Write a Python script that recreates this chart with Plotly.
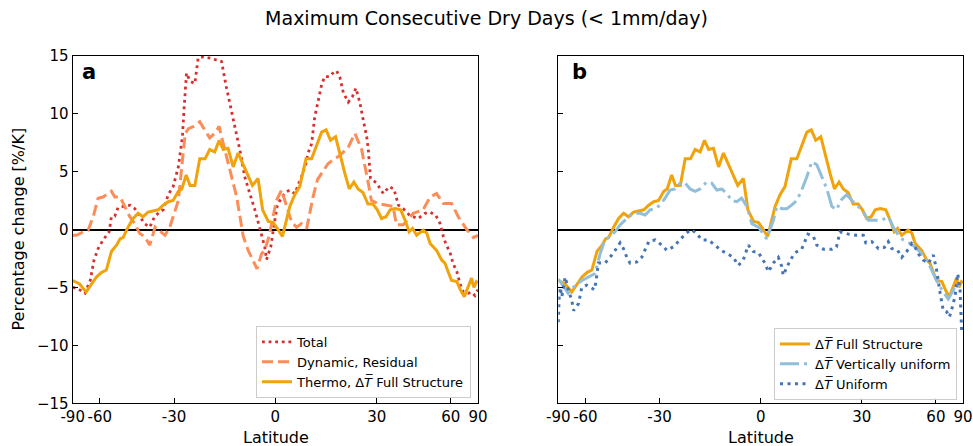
import numpy as np
import plotly.graph_objects as go

# ---------------- data (latitude, % change per K) ----------------
TICK_LATS = [-90, -60, -30, 0, 30, 60, 90]
TICK_TEXT = ["-90", "-60", "-30", "0", "30", "60", "90"]
Y_TICKS = [-15, -10, -5, 0, 5, 10, 15]

total = [(-90, -5.0), (-77, -5.1), (-70, -5.5), (-66, -4.4), (-63.5, -2.65), (-61, -1.65),
         (-58.2, -0.9), (-55.1, -0.2), (-54, 1.1), (-52.4, 1.15), (-50.9, 1.9), (-48.7, 2.0),
         (-45.9, 2.1), (-43.9, 1.8), (-42, 1.1), (-40.2, 0.5), (-38.3, 0.2), (-36.6, 1.1),
         (-34.9, 1.5), (-33.6, 1.7), (-31.9, 3.0), (-30.3, 3.7), (-28.6, 5.4), (-27.3, 8.0),
         (-26.8, 10.3), (-26.0, 13.5), (-24.9, 12.8), (-23.4, 12.6), (-22.4, 14.8), (-20.9, 14.9),
         (-18.9, 14.8), (-17.4, 14.7), (-15.4, 14.5), (-14.0, 12.3), (-12.5, 10.3), (-11.2, 8.6),
         (-9.9, 6.6), (-8.7, 4.55), (-7.2, 3.1), (-5.8, 1.7), (-4.4, 0.1), (-3.0, -1.5),
         (-2.5, -2.6), (-1.3, -1.5), (-0.3, 0.5), (0.5, 2.0), (1.3, 2.5), (2.8, 3.2), (4.1, 3.4),
         (5.5, 3.1), (7.4, 4.55), (8.7, 5.7), (9.3, 6.6), (10.3, 7.4), (11.2, 9.7), (12.2, 11.2),
         (13.2, 12.5), (14.1, 13.2), (15.6, 13.2), (16.8, 13.6), (17.6, 13.7), (18.6, 13.1),
         (19.6, 11.8), (21.1, 11.0), (22.4, 11.5), (23.4, 12.2), (24.7, 10.9), (25.7, 9.45),
         (26.8, 8.0), (27.3, 6.9), (28.0, 4.4), (30.0, 4.0), (32.2, 3.1), (34.2, 3.7), (35.8, 3.5),
         (37.4, 2.1), (39.1, 1.8), (41.6, 1.2), (44.8, 0.95), (47.6, 1.4), (49.8, 1.5), (52.4, 1.2),
         (54.4, 0.5), (56, -0.6), (57.5, -1.35), (59.4, -1.9), (61.2, -2.9), (63.6, -3.65),
         (65.7, -4.7), (68.1, -5.4), (72.2, -5.5), (75.4, -5.4), (80, -5.7), (83, -5.4), (90, -5.2)]

dynamic = [(-90, -0.5), (-79, -0.5), (-71.5, -0.2), (-67.5, -0.05), (-64, 1.1), (-61, 2.7),
           (-58.2, 2.8), (-55.6, 3.1), (-54, 3.3), (-52.4, 2.8), (-50, 2.8), (-48, 2.0),
           (-45.9, 1.1), (-43.9, 0.5), (-42, -0.35), (-40.2, -0.6), (-38.3, -1.35), (-36.4, 0.2),
           (-33, -0.5), (-31.4, 0.2), (-29.9, 1.4), (-28.6, 2.5), (-27.5, 5.4), (-26.4, 8.3),
           (-25.4, 8.7), (-23.8, 8.9), (-21.9, 9.3), (-20.3, 8.6), (-18.9, 7.9), (-17.4, 8.3),
           (-16.1, 8.9), (-15.4, 8.0), (-14.4, 6.9), (-13.2, 5.4), (-12.0, 4.0), (-11.0, 2.8),
           (-10.1, 1.1), (-9.1, -0.6), (-7.7, -1.8), (-6.3, -2.65), (-5.2, -3.4), (-3.9, -2.1),
           (-3.0, -1.8), (-1.8, -0.6), (-0.6, 1.1), (0.3, 2.5), (1.75, 3.4), (3.2, 2.0), (4.6, 0.65),
           (6.0, 0.2), (7.4, 0.5), (8.9, 0.1), (10.7, 2.8), (12.0, 4.3), (15.1, 5.7), (18.6, 6.4),
           (21.1, 7.1), (23.1, 8.3), (25.2, 6.9), (27.3, 4.0), (28.3, 2.5), (31.0, 2.2), (35.5, 2.0),
           (36.7, 0.4), (39.1, 0.4), (42.9, 1.4), (46.8, 1.7), (49.8, 2.8), (52.7, 3.1), (56, 2.25),
           (60.4, 2.25), (64.5, 1.1), (70.8, 0.0), (77.9, -0.7), (83, -0.6), (90, -0.5)]

thermo = [(-90, -4.4), (-82, -4.5), (-75, -4.7), (-69, -5.4), (-65, -4.7), (-62, -4.1), (-59, -3.7),
          (-56.5, -3.5), (-54, -1.9), (-51.6, -1.35), (-50, -0.8), (-48.7, -0.7), (-46.6, 0.2),
          (-44.6, 0.95), (-42.6, 1.4), (-40.8, 1.1), (-38.9, 1.5), (-37.1, 1.6), (-35.3, 1.7),
          (-33.6, 2.1), (-31.9, 2.4), (-30.3, 2.5), (-28.6, 3.3), (-27.5, 3.5), (-26.1, 4.7),
          (-24.9, 3.8), (-23.4, 3.8), (-21.9, 6.1), (-20.3, 6.1), (-18.9, 6.9), (-17.4, 6.7),
          (-16.1, 7.7), (-14.9, 6.9), (-13.5, 7.0), (-12.0, 5.4), (-10.6, 6.6), (-9.1, 5.6),
          (-7.6, 4.6), (-6.5, 3.8), (-4.9, 4.4), (-3.6, 1.7), (-2.0, 0.7), (-0.6, 0.6), (0.3, 0.2),
          (2.0, -0.6), (4.1, 2.0), (5.5, 3.0), (6.9, 3.7), (8.7, 6.1), (10.3, 6.1), (11.8, 7.3),
          (13.2, 8.4), (14.5, 8.6), (15.8, 7.7), (17.3, 8.0), (18.6, 6.4), (20.1, 4.8), (21.4, 3.5),
          (22.8, 4.1), (24.1, 3.5), (25.6, 3.2), (27.2, 2.2), (28.8, 2.2), (30.2, 1.7), (31.6, 0.95),
          (33.1, 1.1), (34.5, 1.7), (36.2, 1.8), (38.2, 1.7), (39.8, 0.8), (41.3, -0.2), (42.6, 0.1),
          (44.2, -0.5), (46.8, -0.05), (48.3, -0.3), (49.8, -1.2), (52.7, -1.8), (55.2, -2.65),
          (56.8, -2.9), (58.5, -3.65), (60.4, -4.4), (63.6, -4.5), (66.1, -5.25), (68.8, -5.8),
          (72.1, -5.0), (75.5, -4.2), (78.5, -5.0), (83, -4.5), (90, -4.6)]

vert_uniform = [(-90, -4.3), (-82, -4.5), (-72, -5.5), (-67, -4.9), (-62, -4.4), (-58.3, -4.1),
                (-54.9, -3.8), (-52.5, -2.1), (-50.3, -0.9), (-48.1, -0.6), (-46, -0.2), (-44, 0.4),
                (-41.4, 0.95), (-38.9, 1.4), (-36.6, 1.4), (-34.8, 1.25), (-33.1, 1.7), (-31.4, 1.8),
                (-29.8, 2.1), (-28.2, 2.7), (-26.6, 3.4), (-25, 3.5), (-23.5, 4.0), (-21.9, 4.0),
                (-20.4, 3.5), (-18.9, 3.3), (-17.4, 3.5), (-15.5, 4.1), (-14, 4.0), (-12.5, 3.4),
                (-11.1, 3.5), (-9.6, 3.1), (-8.2, 2.5), (-6.8, 2.4), (-5.4, 2.7), (-3.9, 2.0),
                (-2.5, 0.5), (-0.6, 0.2), (1.7, -0.8), (3.6, 0.8), (4.6, 2.0), (6.0, 1.8), (7.4, 1.8),
                (8.8, 2.1), (10.3, 2.5), (11.7, 3.4), (13.2, 4.55), (14.6, 5.85), (16.1, 5.6),
                (17.6, 4.55), (19.1, 3.5), (20.6, 2.0), (22.0, 1.7), (23.6, 2.6), (25.2, 3.0),
                (26.8, 2.5), (28.3, 2.1), (30.0, 1.7), (32.2, 0.8), (34.4, 0.8), (36.7, 0.8),
                (39.1, 1.1), (41.0, 0.2), (42.9, -0.5), (44.8, -0.9), (47.6, -1.2), (49.7, -1.5),
                (52.8, -2.1), (56.0, -2.9), (58.6, -3.8), (61.4, -4.7), (64.5, -5.4), (68.0, -6.0),
                (72.2, -5.25), (75.7, -4.7), (80.6, -5.0), (90, -5.0)]

uniform = [(-90, -8.0), (-87, -7.0), (-85, -6.0), (-82, -5.0), (-79.3, -5.8), (-75, -4.1),
           (-71.9, -5.2), (-69, -6.1), (-67.6, -7.0), (-64.2, -6.4), (-62.1, -5.0), (-59.3, -4.8),
           (-57.4, -5.0), (-55.2, -5.2), (-54.5, -4.5), (-53.3, -2.9), (-50.3, -2.9), (-48.1, -2.4),
           (-46, -1.8), (-44, -1.15), (-42.7, -1.65), (-41.4, -2.4), (-40.2, -2.9), (-37.7, -2.8),
           (-36, -2.4), (-34.8, -1.65), (-33.5, -1.0), (-31.4, -0.9), (-29.2, -1.35), (-27.6, -1.8),
           (-25.6, -1.5), (-23.5, -0.9), (-21.9, -0.4), (-20.1, 0.0), (-18.4, -0.35), (-16.9, -0.9),
           (-15, -0.9), (-13, -1.35), (-11.3, -1.8), (-9.4, -2.1), (-7.8, -2.4), (-6.3, -3.1),
           (-4.9, -2.6), (-3.5, -1.35), (-2.1, -1.9), (-0.6, -2.0), (1.2, -2.9), (2.2, -3.65),
           (3.6, -2.9), (5.0, -2.4), (6.0, -3.2), (6.4, -3.95), (7.6, -3.2), (8.4, -2.65), (9.8, -2.0),
           (11.7, -1.7), (13.5, -0.4), (15.1, -0.6), (16.1, -1.35), (18.1, -1.7), (20.6, -1.7),
           (22.0, -1.5), (23.1, -0.2), (25.7, -0.4), (28.3, -0.5), (30.5, -0.5), (31.3, -1.15),
           (33.3, -1.05), (35.6, -1.65), (37.7, -1.55), (39.1, -1.05), (40.4, -1.65), (42.6, -1.8),
           (44.2, -2.4), (46.2, -1.9), (48.3, -1.2), (49.7, -1.5), (51.2, -2.1), (53.5, -2.65),
           (56.0, -2.9), (58.6, -2.2), (60.4, -3.5), (62.5, -5.5), (64.5, -7.0), (66.8, -7.1),
           (68.9, -7.55), (71.3, -6.7), (74.0, -5.7), (76.9, -3.8), (80.2, -5.25), (83.3, -8.7),
           (90, -8.4)]

# ---------------- styling ----------------
C_TOTAL = "#d62f2f"
C_DYN = "#fc8d59"
C_THERMO = "#f0a30a"
C_VU = "#91bfdb"
C_U = "#4575b4"
FONT = "DejaVu Sans"
DT = "Δ<i>T\u0305</i>"


def sx(lat):
    return np.sin(np.radians(np.asarray(lat, dtype=float)))


def xy(pairs):
    lat = [p[0] for p in pairs]
    val = [p[1] for p in pairs]
    return sx(lat), val


fig = go.Figure()

x, y = xy(total)
fig.add_trace(go.Scatter(x=x, y=y, mode="lines", name="Total", xaxis="x", yaxis="y", legend="legend",
                         line=dict(color=C_TOTAL, width=2.8, dash="2.8px,3.8px")))
x, y = xy(dynamic)
fig.add_trace(go.Scatter(x=x, y=y, mode="lines", name="Dynamic, Residual", xaxis="x", yaxis="y",
                         legend="legend", line=dict(color=C_DYN, width=3, dash="11px,5px")))
x, y = xy(thermo)
fig.add_trace(go.Scatter(x=x, y=y, mode="lines", name="Thermo, " + DT + " Full Structure", xaxis="x",
                         yaxis="y", legend="legend", line=dict(color=C_THERMO, width=3)))

x, y = xy(thermo)
fig.add_trace(go.Scatter(x=x, y=y, mode="lines", name=DT + " Full Structure", xaxis="x2", yaxis="y2",
                         legend="legend2", line=dict(color=C_THERMO, width=3)))
x, y = xy(vert_uniform)
fig.add_trace(go.Scatter(x=x, y=y, mode="lines", name=DT + " Vertically uniform", xaxis="x2",
                         yaxis="y2", legend="legend2",
                         line=dict(color=C_VU, width=3, dash="19px,5px,3px,5px")))
x, y = xy(uniform)
fig.add_trace(go.Scatter(x=x, y=y, mode="lines", name=DT + " Uniform", xaxis="x2", yaxis="y2",
                         legend="legend2", line=dict(color=C_U, width=3, dash="3px,4.5px")))

W, H = 973, 446
ya_dom = [1 - 403.3 / H, 1 - 55.7 / H]
xa_dom = [72.7 / W, 478.0 / W]
xb_dom = [558.3 / W, 963.0 / W]

xcommon = dict(range=[-1, 1], tickvals=list(sx(TICK_LATS)), ticktext=TICK_TEXT, ticks="inside",
               ticklen=5, tickwidth=1.2, tickcolor="black", showline=True, linecolor="black",
               linewidth=1.2, mirror=True, showgrid=False, zeroline=False, automargin=False,
               tickangle=0, tickfont=dict(size=15, color="black", family=FONT))
ycommon = dict(range=[-15, 15], tickvals=Y_TICKS, ticks="inside", ticklen=5, tickwidth=1.2,
               tickcolor="black", showline=True, linecolor="black", linewidth=1.2, mirror=True,
               showgrid=False, zeroline=True, zerolinecolor="black", zerolinewidth=1.5,
               automargin=False, tickfont=dict(size=15, color="black", family=FONT), domain=ya_dom)

legend_common = dict(bgcolor="rgba(255,255,255,0.85)", bordercolor="#cccccc", borderwidth=1,
                     font=dict(size=13, family=FONT, color="black"), xanchor="right",
                     yanchor="bottom", itemwidth=30, tracegroupgap=0)


def label(text, x, y, size, angle=0):
    return dict(text=text, x=x / W, y=1 - y / H, xref="paper", yref="paper", showarrow=False,
                xanchor="center", yanchor="middle", textangle=angle,
                font=dict(size=size, family=FONT, color="black"))


fig.update_layout(
    width=W, height=H,
    margin=dict(l=0, r=0, t=0, b=0, autoexpand=False),
    paper_bgcolor="white", plot_bgcolor="white",
    font=dict(family=FONT, color="black"),
    title=dict(text="Maximum Consecutive Dry Days (< 1mm/day)", x=0.5, xanchor="center",
               y=1 - 18 / H, yanchor="middle", font=dict(size=19, family=FONT, color="black")),
    xaxis=dict(domain=xa_dom, anchor="y", **xcommon),
    yaxis=dict(anchor="x", **ycommon),
    xaxis2=dict(domain=xb_dom, anchor="y2", **xcommon),
    yaxis2=dict(anchor="x2", showticklabels=False, **ycommon),
    legend=dict(x=471 / W, y=1 - 398 / H, **legend_common),
    legend2=dict(x=957 / W, y=1 - 400 / H, **legend_common),
    annotations=[
        label("<b>a</b>", 89, 72, 21),
        label("<b>b</b>", 579, 72, 21),
        label("Latitude", 275.5, 437, 16),
        label("Latitude", 760.6, 437, 16),
        label("Percentage change [%/K]", 18, 229.5, 16, angle=-90),
    ],
)

fig.write_html("out.html", config={"displayModeBar": False},
               post_script="document.body.style.margin='0';document.body.style.overflow='hidden';")
